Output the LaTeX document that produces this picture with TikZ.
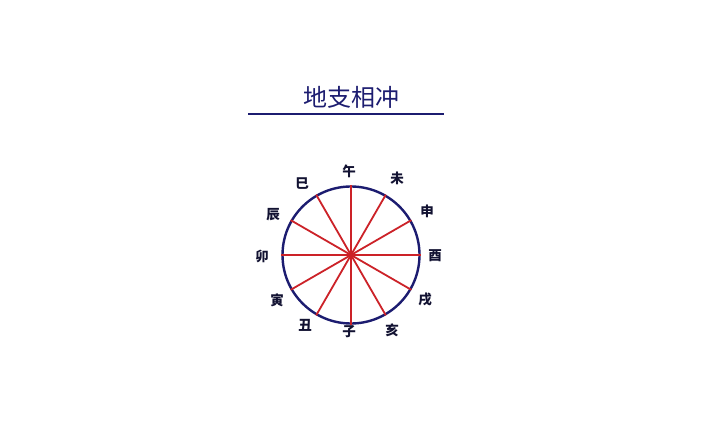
\documentclass[tikz,border=0pt]{standalone}
\usepackage{fontspec}
\newfontfamily\cjk{Noto Sans CJK SC}
\definecolor{ringblue}{RGB}{28,28,112}
\definecolor{spokered}{RGB}{204,34,40}
\definecolor{labelink}{RGB}{18,18,50}
\tikzset{
  branch/.style={font=\cjk\bfseries\fontsize{13.5}{14}\selectfont, text=labelink, inner sep=0pt},
  spoke/.style={draw=spokered, line width=1.8pt},
}
\begin{document}
\begin{tikzpicture}[x=1pt, y=1pt]
            \useasboundingbox[fill=white] (0,0) rectangle (708,431);
            \node[font=\cjk\fontsize{24}{25}\selectfont, text=ringblue] (title) at (351,334) {地支相冲};
            \draw[ringblue, line width=2.6pt] (248,317) -- (444,317);

            \node[circle, draw=ringblue, line width=2.4pt, minimum size=137pt, inner sep=0pt] (ring) at (351,176) {};
            \foreach \a/\b in {0/180, 30/210, 60/240, 90/270, 120/300, 150/330}
                \draw[spoke] (ring.\a) -- (ring.\b);
            \fill[spokered] (ring.center) circle (3pt);

            \node[branch] (wu)   at (349,259.5) {午};
            \node[branch] (wei)  at (397,252.5) {未};
            \node[branch] (shen) at (427,219.5) {申};
            \node[branch] (you)  at (435,175) {酉};
            \node[branch] (xu)   at (425,131) {戌};
            \node[branch] (hai)  at (392,101) {亥};
            \node[branch] (zi)   at (349,99.5) {子};
            \node[branch] (chou) at (305,106) {丑};
            \node[branch] (yin)  at (277,131) {寅};
            \node[branch] (mao)  at (262,174.5) {卯};
            \node[branch] (chen) at (273,216) {辰};
            \node[branch] (si)   at (302,247.5) {巳};
        \end{tikzpicture}
\end{document}
